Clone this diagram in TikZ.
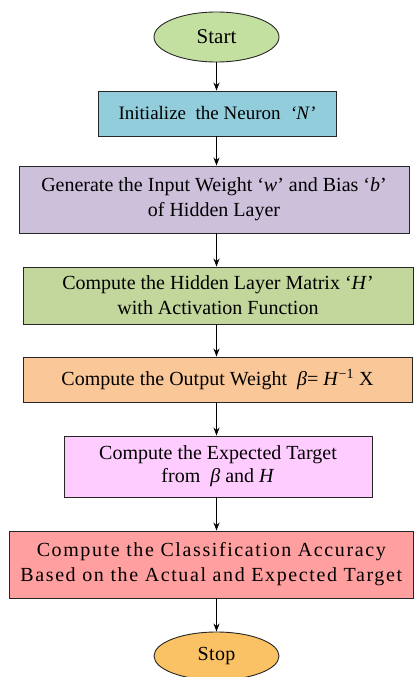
\documentclass[tikz,border=0pt]{standalone}
\usepackage{fontspec}
\setmainfont{Liberation Serif}
\usetikzlibrary{shapes.geometric,arrows.meta}
\definecolor{cstart}{HTML}{C4E0A0}
\definecolor{cinit}{HTML}{92CDDC}
\definecolor{cgen}{HTML}{CCC0DA}
\definecolor{chid}{HTML}{C3D69B}
\definecolor{cout}{HTML}{FAC898}
\definecolor{cexp}{HTML}{FFCCFF}
\definecolor{ccls}{HTML}{FF9F9F}
\definecolor{cstop}{HTML}{FAC264}
\tikzset{
  box/.style={draw=black!85, line width=0.9pt, rectangle, align=center, inner sep=0pt},
  oval/.style={draw=black!85, line width=0.9pt, ellipse, inner sep=0pt},
  arr/.style={draw=black, line width=0.9pt, -{Stealth[length=8pt,width=6pt]}}
}
\newcommand{\fsz}[2]{\fontsize{#1}{#2}\selectfont}
\begin{document}
\begin{tikzpicture}[x=1pt,y=-1pt]
\useasboundingbox (0,0) rectangle (414,677);
\begin{scope}
\clip (0,0) rectangle (414,677);
\node[oval, fill=cstart, minimum width=125pt, minimum height=50pt, font=\fsz{21}{24}] (start) at (216.5,37) {Start};
\node[box, fill=cinit, minimum width=238pt, minimum height=45pt, font=\fsz{19}{24}] (init) at (217,113.5) {Initialize\ \ the Neuron \ \textit{‘N’}};
\node[box, fill=cgen, minimum width=390pt, minimum height=67pt, font=\fsz{20}{25}] (gen) at (214,199.5) {Generate the Input Weight ‘\textit{w}’ and Bias ‘\textit{b}’\\of Hidden Layer};
\node[box, fill=chid, minimum width=390pt, minimum height=57pt, font=\fsz{20}{25}] (hid) at (218,295.5) {Compute the Hidden Layer Matrix ‘\textit{H}’\\with Activation Function};
\node[box, fill=cout, minimum width=389pt, minimum height=45pt, font=\fsz{20}{24}] (out) at (217.5,379.5) {Compute the Output Weight \ \textit{β}= \textit{H}\textsuperscript{−1} X};
\node[box, fill=cexp, minimum width=308pt, minimum height=61pt, font=\fsz{20}{23}] (exp) at (218,466.5) {Compute the Expected Target\\from \ \textit{β} and \textit{H}};
\node[box, fill=ccls, minimum width=404.5pt, minimum height=67pt, font=\fsz{20}{25}\addfontfeature{LetterSpace=8}] (cls) at (211.25,564.5) {Compute the Classification Accuracy\\Based on the Actual and Expected Target};
\node[oval, fill=cstop, minimum width=125pt, minimum height=48pt, font=\fsz{20}{24}\addfontfeature{LetterSpace=2}] (stop) at (216.5,656) {Stop};
\end{scope}
\draw[arr] (start.south) -- (start.south |- init.north);
\draw[arr] (start.south |- init.south) -- (start.south |- gen.north);
\draw[arr] (start.south |- gen.south) -- (start.south |- hid.north);
\draw[arr] (start.south |- hid.south) -- (start.south |- out.north);
\draw[arr] (start.south |- out.south) -- (start.south |- exp.north);
\draw[arr] (start.south |- exp.south) -- (start.south |- cls.north);
\draw[arr] (start.south |- cls.south) -- (start.south |- stop.north);
\end{tikzpicture}
\end{document}
